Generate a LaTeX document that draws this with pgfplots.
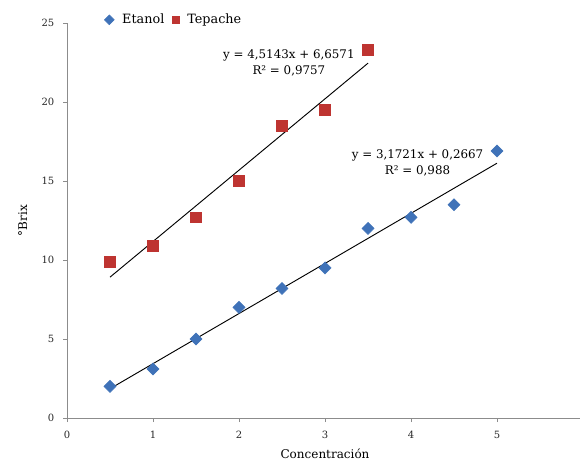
\documentclass[border=0pt]{standalone}
\usepackage{pgfplots}
\pgfplotsset{compat=1.18}
\usepackage{fontspec}
\setmainfont{DejaVu Serif}
\definecolor{eblue}{HTML}{3F72B8}
\definecolor{tred}{HTML}{BE3431}
\definecolor{axgray}{HTML}{8C8C8C}
\begin{document}
\begin{tikzpicture}
\path[use as bounding box] (0,0) rectangle (435pt,353.25pt);
\begin{axis}[
  at={(50.25pt,39.75pt)}, anchor=south west,
  x=64.5pt, y=11.85pt,
  xmin=0, xmax=6, ymin=0, ymax=25,
  axis lines=left,
  axis line style={axgray, -},
  xtick={0,1,2,3,4,5,6},
  ytick={0,5,10,15,20,25},
  tick align=outside,
  major tick length=3pt,
  tick style={axgray},
  /pgf/number format/assume math mode=true,
  ticklabel style={font=\fontsize{7.5}{8}\selectfont, text=black!85},
  xticklabel style={yshift=-3pt},
  yticklabel style={xshift=-3pt},
  xlabel={Concentración},
  ylabel={°Brix},
  label style={font=\fontsize{9}{10}\selectfont},
  xlabel style={yshift=-1pt},
  ylabel style={yshift=4pt},
  legend columns=2,
  legend style={draw=none, fill=none, at={(0.072,1.008)}, anchor=west,
    font=\fontsize{9.6}{11}\selectfont, column sep=4pt, inner xsep=0pt},
  legend image post style={mark size=2.6pt},
  legend image code/.code={\draw[#1] plot coordinates {(0.22cm,0cm)};},
  clip=false,
]
\addplot[only marks, mark=square*, mark options={rotate=45}, mark size=3.2pt, color=eblue] coordinates {
 (0.5,2.0) (1,3.1) (1.5,5.0) (2,7.0) (2.5,8.2) (3,9.5) (3.5,12.0) (4,12.7) (4.5,13.5) (5,16.9)};
\addlegendentry{Etanol}
\addplot[only marks, mark=square*, mark size=4pt, color=tred] coordinates {
 (0.5,9.9) (1,10.9) (1.5,12.7) (2,15.0) (2.5,18.5) (3,19.5) (3.5,23.3)};
\addlegendentry{Tepache}
\addplot[black, line width=0.7pt, forget plot] coordinates {(0.5,8.914) (3.5,22.457)};
\addplot[black, line width=0.7pt, forget plot] coordinates {(0.5,1.853) (5,16.127)};
\node[align=center, font=\fontsize{8.9}{12.5}\selectfont, inner sep=0pt] at (axis cs:2.58,22.47) {y = 4,5143x + 6,6571\\R² = 0,9757};
\node[align=center, font=\fontsize{8.9}{12.5}\selectfont, inner sep=0pt] at (axis cs:4.076,16.14) {y = 3,1721x + 0,2667\\R² = 0,988};
\end{axis}
\end{tikzpicture}
\end{document}
